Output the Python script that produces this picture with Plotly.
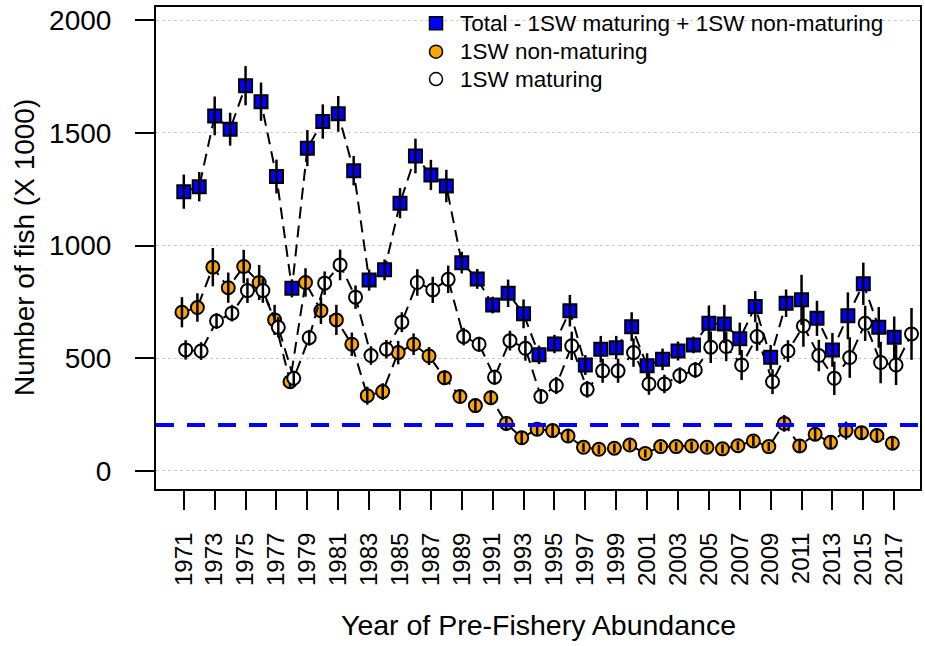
import plotly.graph_objects as go

# Pre-fishery abundance (thousands of fish) by year
years = list(range(1971, 2018))
years_mat = list(range(1971, 2019))

total = [1239, 1261, 1575, 1516, 1709, 1638, 1306, 810, 1432, 1550,
         1584, 1332, 847, 892, 1188, 1397, 1313, 1264, 924, 852,
         736, 788, 697, 515, 563, 711, 470, 540, 547, 640,
         467, 495, 532, 559, 655, 652, 586, 729, 504, 744,
         759, 677, 537, 688, 830, 637, 593]
total_err = [76, 65, 86, 73, 87, 85, 75, 40, 80, 76,
             79, 65, 47, 46, 67, 77, 67, 72, 48, 44,
             37, 61, 64, 41, 41, 70, 44, 59, 52, 64,
             55, 48, 42, 37, 79, 85, 72, 69, 55, 61,
             111, 78, 75, 104, 94, 90, 92]

nonmat = [704, 725, 904, 813, 907, 836, 670, 396, 836, 711,
          670, 562, 334, 352, 525, 562, 510, 414, 330, 290,
          325, 211, 147, 185, 179, 155, 105, 96, 101, 115,
          78, 108, 108, 111, 105, 98, 112, 133, 108, 211,
          111, 163, 127, 179, 170, 157, 123]
nonmat_err = [67, 63, 85, 67, 74, 78, 67, 30, 63, 59,
              67, 52, 40, 37, 52, 48, 40, 33, 30, 33,
              33, 33, 30, 25, 25, 25, 20, 20, 20, 22,
              18, 20, 20, 20, 20, 20, 20, 22, 20, 37,
              25, 28, 25, 40, 30, 33, 25]

mat = [537, 532, 665, 700, 800, 800, 637, 411, 591, 833,
       914, 771, 512, 540, 660, 836, 803, 850, 596, 562,
       416, 578, 544, 330, 379, 555, 362, 444, 444, 525,
       386, 386, 423, 448, 549, 552, 470, 596, 396, 532,
       643, 512, 411, 503, 655, 481, 470, 608]
mat_err = [43, 39, 35, 37, 55, 54, 45, 33, 35, 52,
           68, 52, 41, 41, 44, 59, 58, 61, 39, 33,
           33, 44, 55, 30, 38, 63, 37, 53, 53, 63,
           48, 41, 37, 35, 70, 65, 67, 63, 55, 48,
           92, 70, 74, 90, 78, 92, 89, 115]

conservation_limit = 204

x_ticks = list(range(1971, 2018, 2))
y_ticks = [0, 500, 1000, 1500, 2000]

legend_labels = ["Total - 1SW maturing + 1SW non-maturing",
                 "1SW non-maturing",
                 "1SW maturing"]

FONT = "Liberation Sans, Arial, sans-serif"
BLUE = "#0000FF"
ORANGE = "#FFA500"

fig = go.Figure()


def add_series(xs, vals, errs, shift, symbol, fill, name):
    xx = [x + shift for x in xs]
    # dashed connecting line
    fig.add_trace(go.Scatter(
        x=xx, y=vals, mode="lines", showlegend=False, hoverinfo="skip",
        line=dict(color="black", width=2, dash="12px,7px")))
    # markers
    fig.add_trace(go.Scatter(
        x=xx, y=vals, mode="markers", name=name, showlegend=False,
        marker=dict(symbol=symbol, size=13, color=fill,
                    line=dict(color="black", width=2))))
    # vertical error bars drawn on top of markers
    ex, ey = [], []
    for x, v, e in zip(xx, vals, errs):
        ex += [x, x, None]
        ey += [v - e, v + e, None]
    fig.add_trace(go.Scatter(
        x=ex, y=ey, mode="lines", showlegend=False, hoverinfo="skip",
        line=dict(color="black", width=2.5)))


add_series(years, nonmat, nonmat_err, -0.12, "circle", ORANGE, legend_labels[1])
add_series(years_mat, mat, mat_err, 0.12, "circle", "white", legend_labels[2])
add_series(years, total, total_err, 0.0, "square", BLUE, legend_labels[0])

# conservation limit
fig.add_shape(type="line", xref="paper", x0=0, x1=1, yref="y",
              y0=conservation_limit, y1=conservation_limit,
              line=dict(color=BLUE, width=4, dash="18px,13px"))

# key in the top part of the panel
key_x = 0.3665
key_text_x = 0.3956
key_rows = [0.9662, 0.9073, 0.8506]
key_styles = [("rect", BLUE), ("circle", ORANGE), ("circle", "white")]
annotations = []
for label, ky, (kind, fill) in zip(legend_labels, key_rows, key_styles):
    fig.add_shape(type=kind, xref="paper", yref="paper",
                  xsizemode="pixel", ysizemode="pixel",
                  xanchor=key_x, yanchor=ky, x0=-6.5, x1=6.5, y0=-6.5, y1=6.5,
                  fillcolor=fill, line=dict(color="black", width=1.5))
    annotations.append(dict(text=label, xref="paper", yref="paper",
                            x=key_text_x, y=ky, xanchor="left",
                            yanchor="middle", showarrow=False,
                            font=dict(size=22.5)))

annotations += [
    dict(text="Number of fish (X 1000)", xref="paper", yref="paper",
         x=0, y=0.5, xanchor="center", yanchor="middle", xshift=-132,
         textangle=-90, showarrow=False, font=dict(size=28)),
    dict(text="Year of Pre-Fishery Abundance", xref="paper", yref="paper",
         x=0.5, y=0, xanchor="center", yanchor="middle", yshift=-136,
         showarrow=False, font=dict(size=28.5)),
]

fig.update_layout(
    width=925, height=646,
    margin=dict(l=156, r=3, t=7, b=157),
    plot_bgcolor="white", paper_bgcolor="white",
    font=dict(family=FONT, color="black"),
    showlegend=False,
    annotations=annotations,
)

fig.update_xaxes(
    range=[1969.2, 2018.67], tickmode="array", tickvals=x_ticks,
    ticktext=[str(t) for t in x_ticks], tickangle=-90,
    ticks="outside", ticklen=19, tickwidth=2, tickcolor="black",
    ticklabelstandoff=13, tickfont=dict(size=24),
    showline=True, linecolor="black", linewidth=2, mirror=True,
    showgrid=False, zeroline=False)

fig.update_yaxes(
    range=[-80, 2058], tickmode="array", tickvals=y_ticks,
    ticks="outside", ticklen=19, tickwidth=2, tickcolor="black",
    ticklabelstandoff=18, tickfont=dict(size=28),
    showline=True, linecolor="black", linewidth=2, mirror=True,
    showgrid=True, gridcolor="#C8C8C8", gridwidth=1, griddash="dot",
    zeroline=False)

fig.write_html("out.html")
